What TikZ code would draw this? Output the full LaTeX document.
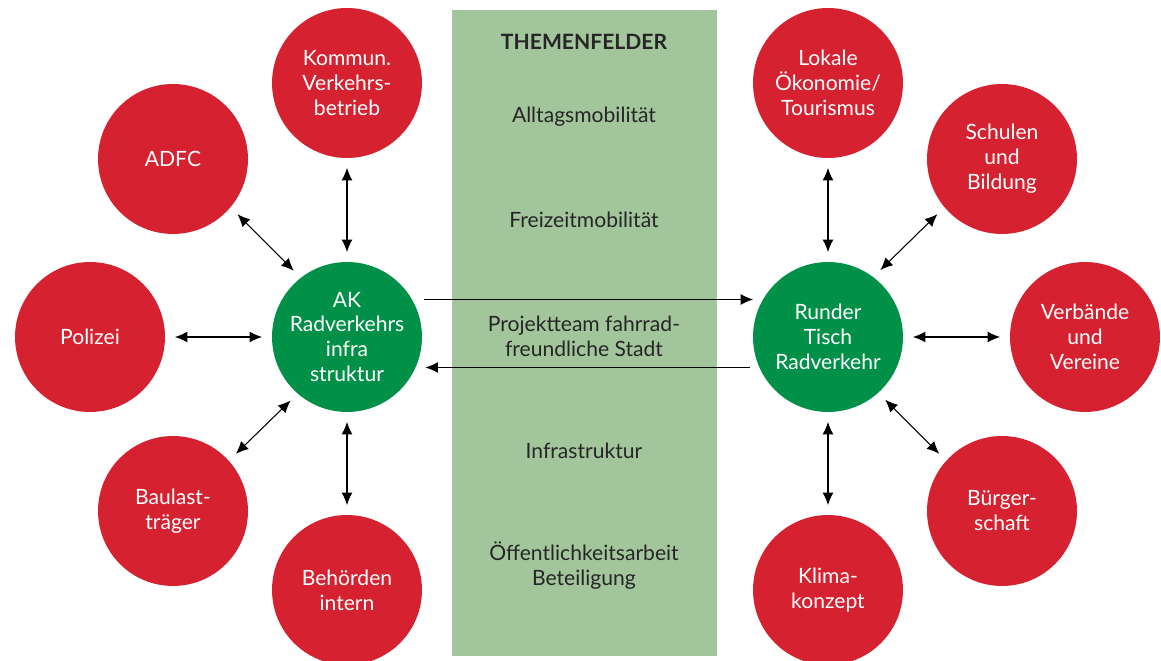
\documentclass[tikz,border=0pt]{standalone}
\usepackage{fontspec}
\setmainfont{Lato}
\usetikzlibrary{arrows.meta}

\definecolor{ballred}{RGB}{213,33,48}
\definecolor{hubgreen}{RGB}{0,144,72}
\definecolor{fieldgreen}{RGB}{163,197,155}

\begin{document}
\begin{tikzpicture}[x=0.02cm, y=-0.02cm,
    every node/.style={outer sep=0pt},
    ball/.style={circle, minimum size=3cm, inner sep=0pt},
    redball/.style={ball, fill=ballred},
    hub/.style={ball, fill=hubgreen},
    balltext/.style={text=white, align=center, font=\fontsize{12}{14.2}\selectfont},
    fieldtext/.style={text=black!85, align=center, font=\fontsize{12}{14.2}\selectfont},
    arrowtip/.tip={Latex[length=2.5mm,width=2.2mm]},
    arrow/.style={line width=0.6pt, arrowtip-arrowtip, shorten <=0.2cm, shorten >=0.2cm}]
        \useasboundingbox (0,0) rectangle (1161,661);
        \fill[fieldgreen] (452,10) rectangle (717,656);
        
        \node[fieldtext, font=\fontsize{12}{14.2}\selectfont\bfseries](themen) at (584,42) {THEMENFELDER};
        \node[fieldtext](alltag) at (584,117) {Alltagsmobilität};
        \node[fieldtext](freizeit) at (584,220) {Freizeitmobilität};
        \node[fieldtext](projekt) at (584,336) {Projektteam fahrrad-\\freundliche Stadt};
        \node[fieldtext](infra) at (584,451) {Infrastruktur};
        \node[fieldtext](oeffentlich) at (584,566) {Öffentlichkeitsarbeit\\Beteiligung};
        
        % hubs
        \node[hub, label={[balltext]center:AK\\Radverkehrs\\infra\\struktur}](ak) at (347,337) {};
        \node[hub, label={[balltext]center:Runder\\Tisch\\Radverkehr}](tisch) at (828,337) {};
        
        % left side
        \node[redball, label={[balltext]center:Kommun.\\Verkehrs-\\betrieb}](kommun) at (347,83) {};
        \node[redball, label={[balltext]center:ADFC}](adfc) at (173,159) {};
        \node[redball, label={[balltext]center:Polizei}](polizei) at (90,337) {};
        \node[redball, label={[balltext]center:Baulast-\\träger}](baulast) at (173,511) {};
        \node[redball, label={[balltext]center:Behörden\\intern}](behoerden) at (347,590) {};
        
        % right side
        \node[redball, label={[balltext]center:Lokale\\Ökonomie/\\Tourismus}](oekonomie) at (828,83) {};
        \node[redball, label={[balltext]center:Schulen\\und\\Bildung}](schulen) at (1002,159) {};
        \node[redball, label={[balltext]center:Verbände\\und\\Vereine}](verbaende) at (1085,337) {};
        \node[redball, label={[balltext]center:Bürger-\\schaft}](buerger) at (1002,511) {};
        \node[redball, label={[balltext]center:Klima-\\konzept}](klima) at (828,590) {};
        
        \foreach \other in {kommun, polizei, behoerden}
            \draw[arrow] (\other) -- (ak);
        \foreach \other in {oekonomie, verbaende, klima}
            \draw[arrow] (\other) -- (tisch);
        \draw[arrow] (adfc.-40) -- (ak.128);
        \draw[arrow] (baulast.42) -- (ak.-131);
        \draw[arrow] (schulen.-140) -- (tisch.53);
        \draw[arrow] (buerger.138) -- (tisch.-48);
        
        \draw[arrow, arrowtip-, shorten >=0.25cm] (tisch.150) -- (ak.30);
        \draw[arrow, -arrowtip] (tisch.204) -- (ak.-24);
    \end{tikzpicture}
\end{document}
